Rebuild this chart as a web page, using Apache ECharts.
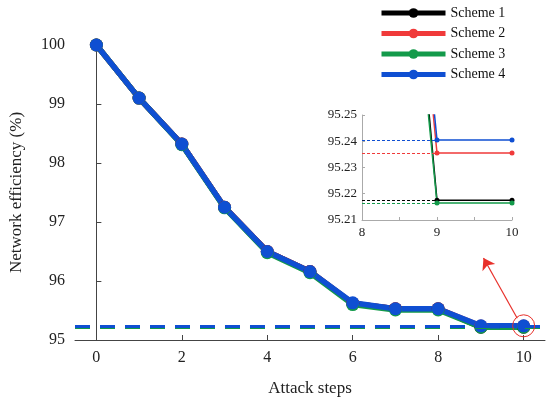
<!DOCTYPE html>
<html>
<head>
<meta charset="utf-8">
<script src="https://cdn.jsdelivr.net/npm/echarts@6/dist/echarts.min.js"></script>
<style>
  html, body { margin: 0; padding: 0; background: #fff; }
  #main { width: 550px; height: 407px; }
</style>
</head>
<body>
<div id="main"></div>
<script>
// attack steps and network efficiency (%) for each scheme
const steps = [0, 1, 2, 3, 4, 5, 6, 7, 8, 9, 10];
const scheme1 = [100, 99.10, 98.32, 97.25, 96.50, 96.16, 95.62, 95.53, 95.53, 95.2175, 95.2175];
const scheme2 = [100, 99.10, 98.32, 97.25, 96.50, 96.16, 95.62, 95.53, 95.53, 95.2355, 95.2355];
const scheme3 = [100, 99.10, 98.31, 97.24, 96.48, 96.14, 95.60, 95.51, 95.51, 95.2165, 95.2165];
const scheme4 = [100, 99.10, 98.32, 97.25, 96.50, 96.16, 95.63, 95.53, 95.53, 95.2405, 95.2405];
const names = ['Scheme 1', 'Scheme 2', 'Scheme 3', 'Scheme 4'];
const colors = ['#000000', '#f03a3a', '#139a4a', '#0f4fd2'];
const xTicks = [0, 2, 4, 6, 8, 10];
const zoomTicks = [8, 9, 10];

const font = 'Liberation Serif';
const chart = echarts.init(document.getElementById('main'));

const allData = [scheme1, scheme2, scheme3, scheme4];
const pts = arr => steps.map((s, i) => [s, arr[i]]);
const last = arr => arr[arr.length - 1];

const series = [];
allData.forEach((arr, k) => {
    const s = {
        name: names[k],
        type: 'line',
        xAxisIndex: 0,
        yAxisIndex: 0,
        data: pts(arr),
        color: colors[k],
        symbol: 'circle',
        symbolSize: 13,
        itemStyle: { color: colors[k] },
        lineStyle: { width: 5.5 },
        animation: false,
        markLine: {
            silent: true,
            symbol: 'none',
            label: { show: false },
            lineStyle: { color: colors[k], width: 3, type: [15, 10] },
            data: [{ yAxis: last(arr) }]
        }
    };
    if (k === 3) {
        // red circle on the last point and arrow to the zoomed view
        s.markPoint = {
            silent: true,
            symbol: 'circle',
            symbolSize: 22,
            label: { show: false },
            itemStyle: { color: 'transparent', borderColor: '#e8302a', borderWidth: 1 },
            data: [{ coord: [10, last(arr)] }]
        };
        s.markLine.data.push([
            { coord: [9.85, 95.37], lineStyle: { color: '#e8302a', width: 1.2, type: 'solid' }, symbol: 'none' },
            { coord: [9.06, 96.39], symbol: 'arrow', symbolSize: 11 }
        ]);
    }
    series.push(s);
});
allData.forEach((arr, k) => {
    series.push({
        name: names[k],
        type: 'line',
        xAxisIndex: 1,
        yAxisIndex: 1,
        data: pts(arr),
        color: colors[k],
        symbol: 'circle',
        symbolSize: 5,
        clip: true,
        lineStyle: { width: 1.5 },
        animation: false,
        markLine: {
            silent: true,
            symbol: 'none',
            label: { show: false },
            lineStyle: { color: colors[k], width: 1, type: [3, 2] },
            data: [[{ coord: [8, last(arr)] }, { coord: [9, last(arr)] }]]
        }
    });
});

const option = {
    backgroundColor: '#fff',
    textStyle: { fontFamily: font },
    legend: {
        data: names,
        orient: 'vertical',
        left: 374,
        top: 1,
        itemWidth: 64,
        itemHeight: 12,
        itemGap: 6.5,
        itemStyle: { borderWidth: 0 },
        lineStyle: { width: 5 },
        textStyle: { fontFamily: font, fontSize: 14, color: '#111' }
    },
    grid: [
        { left: 74, top: 45, right: 5, bottom: 67 },
        { left: 362, top: 115, width: 150, height: 105 }
    ],
    xAxis: [
        {
            type: 'value', gridIndex: 0, min: -0.5, max: 10.5,
            name: 'Attack steps', nameLocation: 'middle', nameGap: 40,
            nameTextStyle: { fontFamily: font, fontSize: 17, color: '#222' },
            axisLine: { lineStyle: { color: '#444', width: 1 } },
            axisTick: { inside: true, length: 5, customValues: xTicks, lineStyle: { color: '#444' } },
            axisLabel: { customValues: xTicks, fontFamily: font, fontSize: 16, color: '#222', margin: 10 },
            splitLine: { show: false }
        },
        {
            type: 'value', gridIndex: 1, min: 8, max: 10,
            axisLine: { lineStyle: { color: '#aaa', width: 1 } },
            axisTick: { inside: true, length: 3, customValues: [8, 8.5, 9, 9.5, 10], lineStyle: { color: '#aaa' } },
            axisLabel: { customValues: zoomTicks, fontFamily: font, fontSize: 13, color: '#222', margin: 6 },
            splitLine: { show: false }
        }
    ],
    yAxis: [
        {
            type: 'value', gridIndex: 0, min: 95, max: 100, interval: 1,
            name: 'Network efficiency (%)', nameLocation: 'middle', nameGap: 50,
            nameTextStyle: { fontFamily: font, fontSize: 17, color: '#222' },
            axisLine: { show: true, lineStyle: { color: '#444', width: 1 } },
            axisTick: { show: true, inside: true, length: 5, lineStyle: { color: '#444' } },
            axisLabel: { fontFamily: font, fontSize: 16, color: '#222', margin: 10 },
            splitLine: { show: false }
        },
        {
            type: 'value', gridIndex: 1, min: 95.21, max: 95.25, interval: 0.01,
            axisLine: { show: true, lineStyle: { color: '#aaa', width: 1 } },
            axisTick: { show: true, inside: true, length: 3, lineStyle: { color: '#aaa' } },
            axisLabel: {
                fontFamily: font, fontSize: 13, color: '#222', margin: 5,
                formatter: v => v.toFixed(2)
            },
            splitLine: { show: false }
        }
    ],
    series: series
};

chart.setOption(option);
</script>
</body>
</html>
